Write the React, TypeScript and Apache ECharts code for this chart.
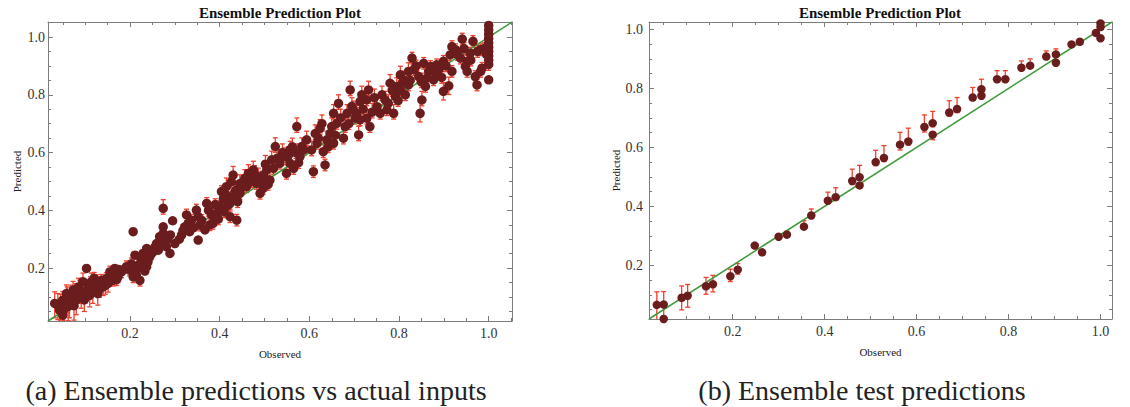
import React, { useEffect, useRef } from 'react';
import * as echarts from 'echarts';

const TITLE = 'Ensemble Prediction Plot';
const X_NAME = 'Observed';
const Y_NAME = 'Predicted';
const CAPTION_A = '(a) Ensemble predictions vs actual inputs';
const CAPTION_B = '(b) Ensemble test predictions';

const TRAIN_RANGE = [0.017, 1.052];
const TEST_RANGE = [0.018, 1.025];

// [observed, predicted, error below, error above]
const TRAIN_POINTS: number[][] = [
  [0.032, 0.078, 0.05, 0.04], [0.039, 0.072, 0.05, 0.04], [0.043, 0.054, 0.04, 0.04], [0.045, 0.070, 0.05, 0.04],
  [0.050, 0.089, 0.04, 0.03], [0.050, 0.037, 0.03, 0.04], [0.054, 0.060, 0.05, 0.05], [0.058, 0.112, 0.04, 0.03],
  [0.060, 0.095, 0.05, 0.04], [0.062, 0.068, 0.05, 0.04], [0.065, 0.078, 0.05, 0.04], [0.069, 0.101, 0.04, 0.04],
  [0.073, 0.124, 0.04, 0.03], [0.075, 0.070, 0.05, 0.04], [0.080, 0.089, 0.05, 0.04], [0.080, 0.106, 0.04, 0.04],
  [0.085, 0.135, 0.03, 0.03], [0.088, 0.118, 0.04, 0.04], [0.091, 0.101, 0.04, 0.03], [0.095, 0.153, 0.03, 0.03],
  [0.098, 0.090, 0.04, 0.04], [0.099, 0.118, 0.04, 0.03], [0.103, 0.199, 0.01, 0.01], [0.106, 0.129, 0.04, 0.03],
  [0.110, 0.106, 0.04, 0.03], [0.112, 0.140, 0.03, 0.03], [0.114, 0.153, 0.03, 0.03], [0.117, 0.118, 0.04, 0.03],
  [0.120, 0.165, 0.02, 0.02], [0.125, 0.147, 0.03, 0.03], [0.128, 0.112, 0.04, 0.03], [0.132, 0.129, 0.03, 0.03],
  [0.135, 0.145, 0.03, 0.02], [0.136, 0.158, 0.02, 0.02], [0.140, 0.135, 0.03, 0.02], [0.145, 0.140, 0.03, 0.02],
  [0.147, 0.164, 0.02, 0.02], [0.151, 0.147, 0.03, 0.02], [0.155, 0.187, 0.02, 0.02], [0.158, 0.175, 0.02, 0.02],
  [0.162, 0.158, 0.02, 0.02], [0.166, 0.199, 0.01, 0.01], [0.170, 0.160, 0.02, 0.02], [0.173, 0.170, 0.02, 0.02],
  [0.175, 0.195, 0.01, 0.01], [0.181, 0.187, 0.02, 0.02],
  [0.192, 0.205, 0.02, 0.02], [0.199, 0.193, 0.02, 0.02], [0.203, 0.215, 0.02, 0.02], [0.207, 0.170, 0.02, 0.02],
  [0.207, 0.326, 0.01, 0.01], [0.211, 0.245, 0.01, 0.01], [0.214, 0.176, 0.02, 0.02], [0.215, 0.195, 0.02, 0.02],
  [0.218, 0.210, 0.02, 0.02], [0.222, 0.158, 0.02, 0.01], [0.225, 0.228, 0.01, 0.01], [0.228, 0.235, 0.01, 0.01],
  [0.229, 0.251, 0.01, 0.01], [0.233, 0.190, 0.01, 0.01], [0.237, 0.205, 0.01, 0.01], [0.237, 0.268, 0.01, 0.01],
  [0.240, 0.222, 0.01, 0.01], [0.244, 0.239, 0.01, 0.01], [0.248, 0.250, 0.01, 0.01], [0.252, 0.257, 0.01, 0.01],
  [0.255, 0.272, 0.01, 0.01], [0.259, 0.285, 0.01, 0.01], [0.263, 0.262, 0.01, 0.01], [0.266, 0.309, 0.01, 0.01],
  [0.268, 0.290, 0.01, 0.01], [0.274, 0.407, 0.02, 0.03], [0.274, 0.343, 0.01, 0.01], [0.274, 0.320, 0.01, 0.01],
  [0.281, 0.274, 0.01, 0.01], [0.284, 0.300, 0.01, 0.01], [0.289, 0.251, 0.01, 0.01], [0.290, 0.315, 0.01, 0.01],
  [0.295, 0.364, 0.01, 0.01], [0.300, 0.285, 0.01, 0.01],
  [0.310, 0.300, 0.01, 0.02], [0.315, 0.314, 0.01, 0.01], [0.318, 0.330, 0.01, 0.02], [0.322, 0.343, 0.01, 0.01],
  [0.326, 0.384, 0.02, 0.02], [0.330, 0.355, 0.01, 0.02], [0.333, 0.326, 0.01, 0.01], [0.337, 0.366, 0.02, 0.02],
  [0.342, 0.340, 0.01, 0.02], [0.348, 0.401, 0.02, 0.02], [0.352, 0.378, 0.02, 0.02], [0.352, 0.297, 0.01, 0.01],
  [0.356, 0.349, 0.02, 0.02], [0.360, 0.365, 0.02, 0.02], [0.367, 0.332, 0.01, 0.02], [0.371, 0.424, 0.02, 0.02],
  [0.375, 0.400, 0.02, 0.02], [0.378, 0.350, 0.02, 0.02], [0.382, 0.384, 0.02, 0.02], [0.385, 0.355, 0.02, 0.02],
  [0.390, 0.420, 0.02, 0.02], [0.393, 0.389, 0.02, 0.02], [0.397, 0.370, 0.02, 0.02], [0.400, 0.413, 0.02, 0.02],
  [0.404, 0.465, 0.02, 0.02], [0.408, 0.440, 0.02, 0.02], [0.410, 0.395, 0.02, 0.02], [0.415, 0.482, 0.02, 0.03],
  [0.415, 0.453, 0.02, 0.02], [0.419, 0.418, 0.02, 0.02], [0.423, 0.378, 0.02, 0.02], [0.423, 0.424, 0.02, 0.02],
  [0.426, 0.499, 0.02, 0.03], [0.428, 0.445, 0.02, 0.02], [0.430, 0.522, 0.02, 0.03], [0.434, 0.465, 0.02, 0.02],
  [0.437, 0.470, 0.02, 0.02], [0.438, 0.366, 0.02, 0.02], [0.440, 0.430, 0.02, 0.02], [0.445, 0.459, 0.02, 0.03],
  [0.445, 0.493, 0.02, 0.03],
  [0.452, 0.480, 0.02, 0.03], [0.456, 0.511, 0.02, 0.03], [0.460, 0.482, 0.02, 0.03], [0.464, 0.528, 0.02, 0.03],
  [0.468, 0.510, 0.02, 0.03], [0.471, 0.499, 0.02, 0.03], [0.475, 0.540, 0.02, 0.03], [0.478, 0.525, 0.02, 0.03],
  [0.482, 0.493, 0.02, 0.03], [0.486, 0.516, 0.02, 0.03], [0.490, 0.459, 0.02, 0.02], [0.494, 0.505, 0.02, 0.03],
  [0.497, 0.476, 0.02, 0.02], [0.498, 0.522, 0.02, 0.03], [0.502, 0.560, 0.02, 0.03], [0.505, 0.540, 0.02, 0.03],
  [0.508, 0.490, 0.02, 0.03], [0.512, 0.505, 0.02, 0.03], [0.516, 0.575, 0.02, 0.03], [0.520, 0.545, 0.02, 0.03],
  [0.524, 0.621, 0.02, 0.03], [0.528, 0.580, 0.02, 0.03], [0.534, 0.563, 0.02, 0.03], [0.540, 0.600, 0.02, 0.03],
  [0.546, 0.586, 0.02, 0.03], [0.549, 0.528, 0.02, 0.03], [0.553, 0.590, 0.02, 0.03], [0.557, 0.609, 0.02, 0.03],
  [0.557, 0.563, 0.02, 0.03], [0.562, 0.620, 0.02, 0.03], [0.565, 0.545, 0.02, 0.02], [0.570, 0.600, 0.02, 0.03],
  [0.572, 0.690, 0.02, 0.03], [0.576, 0.565, 0.02, 0.03], [0.579, 0.586, 0.02, 0.03], [0.583, 0.621, 0.02, 0.03],
  [0.588, 0.610, 0.02, 0.03], [0.594, 0.644, 0.02, 0.03],
  [0.605, 0.609, 0.02, 0.03], [0.609, 0.534, 0.02, 0.02], [0.613, 0.666, 0.02, 0.03], [0.617, 0.632, 0.02, 0.03],
  [0.620, 0.650, 0.02, 0.03], [0.624, 0.684, 0.02, 0.03], [0.628, 0.700, 0.02, 0.03], [0.631, 0.603, 0.02, 0.03],
  [0.635, 0.557, 0.02, 0.02], [0.639, 0.644, 0.02, 0.03], [0.642, 0.620, 0.02, 0.03], [0.646, 0.666, 0.02, 0.03],
  [0.650, 0.690, 0.02, 0.03], [0.654, 0.632, 0.02, 0.03], [0.654, 0.736, 0.02, 0.03], [0.658, 0.660, 0.02, 0.03],
  [0.661, 0.701, 0.02, 0.03], [0.665, 0.770, 0.02, 0.03], [0.670, 0.720, 0.02, 0.03], [0.676, 0.650, 0.02, 0.03],
  [0.680, 0.690, 0.02, 0.03], [0.684, 0.736, 0.02, 0.03], [0.688, 0.700, 0.02, 0.03], [0.691, 0.817, 0.02, 0.03],
  [0.695, 0.760, 0.02, 0.03], [0.698, 0.748, 0.02, 0.03], [0.702, 0.719, 0.02, 0.03], [0.706, 0.735, 0.02, 0.03],
  [0.710, 0.661, 0.02, 0.03], [0.713, 0.776, 0.02, 0.03], [0.713, 0.713, 0.02, 0.03], [0.717, 0.800, 0.02, 0.03],
  [0.720, 0.750, 0.02, 0.03], [0.728, 0.782, 0.02, 0.03], [0.728, 0.719, 0.02, 0.03], [0.732, 0.817, 0.02, 0.03],
  [0.735, 0.690, 0.02, 0.04], [0.740, 0.740, 0.02, 0.03], [0.745, 0.790, 0.02, 0.03], [0.751, 0.759, 0.02, 0.03],
  [0.758, 0.736, 0.02, 0.03], [0.762, 0.800, 0.02, 0.03], [0.769, 0.782, 0.02, 0.03], [0.773, 0.748, 0.02, 0.03],
  [0.776, 0.770, 0.02, 0.03], [0.780, 0.840, 0.02, 0.03], [0.785, 0.815, 0.02, 0.03], [0.788, 0.736, 0.02, 0.03],
  [0.792, 0.794, 0.02, 0.03], [0.795, 0.829, 0.02, 0.03], [0.798, 0.780, 0.02, 0.03], [0.803, 0.817, 0.02, 0.03],
  [0.803, 0.869, 0.02, 0.03], [0.808, 0.840, 0.02, 0.03], [0.810, 0.852, 0.02, 0.03], [0.814, 0.800, 0.02, 0.03],
  [0.821, 0.834, 0.02, 0.03], [0.821, 0.881, 0.02, 0.03], [0.825, 0.850, 0.02, 0.03], [0.829, 0.927, 0.02, 0.02],
  [0.833, 0.887, 0.02, 0.03], [0.838, 0.900, 0.02, 0.02], [0.844, 0.863, 0.02, 0.03], [0.847, 0.736, 0.03, 0.04],
  [0.850, 0.845, 0.02, 0.03], [0.851, 0.782, 0.02, 0.03], [0.855, 0.909, 0.02, 0.02], [0.859, 0.829, 0.02, 0.03],
  [0.862, 0.858, 0.02, 0.03], [0.866, 0.880, 0.02, 0.02], [0.870, 0.898, 0.02, 0.02], [0.877, 0.881, 0.02, 0.02],
  [0.877, 0.852, 0.02, 0.03], [0.884, 0.875, 0.02, 0.02], [0.884, 0.904, 0.02, 0.02], [0.890, 0.890, 0.02, 0.02],
  [0.895, 0.860, 0.02, 0.02], [0.899, 0.916, 0.02, 0.02], [0.899, 0.812, 0.03, 0.03],
  [0.905, 0.900, 0.02, 0.02], [0.911, 0.831, 0.03, 0.03], [0.914, 0.938, 0.02, 0.02], [0.918, 0.967, 0.02, 0.02],
  [0.918, 0.881, 0.02, 0.02], [0.926, 0.956, 0.02, 0.02], [0.930, 0.940, 0.02, 0.02], [0.937, 0.927, 0.02, 0.02],
  [0.941, 0.993, 0.02, 0.02], [0.945, 0.960, 0.02, 0.02], [0.948, 0.898, 0.02, 0.02], [0.952, 0.916, 0.02, 0.02],
  [0.952, 0.881, 0.02, 0.02], [0.959, 0.944, 0.02, 0.02], [0.960, 0.920, 0.02, 0.02], [0.965, 0.985, 0.02, 0.02],
  [0.970, 0.863, 0.02, 0.02], [0.974, 0.834, 0.02, 0.02], [0.975, 0.950, 0.02, 0.02], [0.982, 0.956, 0.02, 0.02],
  [0.982, 0.881, 0.02, 0.02], [0.985, 0.892, 0.02, 0.02], [0.990, 0.960, 0.02, 0.02], [0.995, 0.940, 0.02, 0.02],
  [1.000, 1.040, 0.02, 0.02], [1.000, 1.025, 0.02, 0.02], [1.000, 1.010, 0.02, 0.02], [1.000, 0.995, 0.02, 0.02],
  [1.000, 0.980, 0.02, 0.02], [1.000, 0.965, 0.02, 0.02], [1.000, 0.950, 0.02, 0.02], [1.000, 0.935, 0.02, 0.02],
  [1.000, 0.920, 0.02, 0.02], [1.000, 0.905, 0.02, 0.02], [1.000, 0.852, 0.01, 0.01],
];

// [observed, predicted, error below, error above]
const TEST_POINTS: number[][] = [
  [0.035, 0.066, 0.054, 0.044], [0.050, 0.067, 0.052, 0.044], [0.050, 0.018, 0.010, 0.010],
  [0.089, 0.090, 0.041, 0.040], [0.102, 0.097, 0.039, 0.038], [0.142, 0.129, 0.027, 0.030],
  [0.157, 0.136, 0.026, 0.030], [0.195, 0.163, 0.018, 0.024], [0.211, 0.185, 0.015, 0.021],
  [0.248, 0.267, 0.006, 0.006], [0.264, 0.244, 0.006, 0.008], [0.300, 0.297, 0.006, 0.006],
  [0.318, 0.304, 0.008, 0.012], [0.355, 0.331, 0.006, 0.020], [0.371, 0.369, 0.010, 0.022],
  [0.407, 0.419, 0.008, 0.029], [0.424, 0.431, 0.008, 0.032], [0.460, 0.486, 0.012, 0.040],
  [0.476, 0.499, 0.010, 0.040], [0.476, 0.471, 0.010, 0.008], [0.511, 0.550, 0.012, 0.040],
  [0.529, 0.564, 0.012, 0.042], [0.564, 0.609, 0.018, 0.042], [0.582, 0.620, 0.012, 0.045],
  [0.617, 0.669, 0.017, 0.041], [0.635, 0.682, 0.012, 0.040], [0.635, 0.643, 0.017, 0.008],
  [0.671, 0.718, 0.012, 0.040], [0.688, 0.730, 0.012, 0.039], [0.722, 0.769, 0.010, 0.034],
  [0.741, 0.797, 0.010, 0.034], [0.741, 0.775, 0.010, 0.008], [0.775, 0.831, 0.010, 0.029],
  [0.793, 0.831, 0.010, 0.029], [0.828, 0.870, 0.008, 0.023], [0.847, 0.877, 0.008, 0.023],
  [0.882, 0.908, 0.006, 0.019], [0.903, 0.915, 0.006, 0.019], [0.903, 0.887, 0.006, 0.006],
  [0.937, 0.949, 0.005, 0.006], [0.955, 0.958, 0.005, 0.006], [0.990, 0.988, 0.005, 0.006],
  [1.000, 1.008, 0.006, 0.020], [1.000, 0.970, 0.005, 0.006], [1.000, 1.020, 0.006, 0.010],
];

const FONT = '"Liberation Serif", "Times New Roman", Times, "DejaVu Serif", serif';
const DOT = '#6b1d1d';
const ERR = '#ef3f2c';
const DIAG = '#3f9a3c';
const FRAME = '#7c7c7c';

function tickFmt(v: number): string {
  const k = v / 0.2;
  return Math.abs(k - Math.round(k)) < 1e-6 ? v.toFixed(1) : '';
}

function axisBase(range: number[], gridIndex: number) {
  return {
    type: 'value',
    gridIndex,
    min: range[0],
    max: range[1],
    axisLine: { show: true, onZero: false, lineStyle: { color: FRAME, width: 1 } },
    axisTick: { show: true, inside: true, length: 5, lineStyle: { color: FRAME, width: 1 } },
    minorTick: { show: true, splitNumber: 4, length: 3, lineStyle: { color: FRAME, width: 1 } },
    splitLine: { show: false },
    minorSplitLine: { show: false },
  };
}

function errorSeries(data: number[][], xi: number, cap: number) {
  return {
    type: 'custom',
    xAxisIndex: xi,
    yAxisIndex: xi,
    clip: true,
    z: 2,
    data,
    encode: { x: 0, y: 1 },
    renderItem: (_p: any, api: any) => {
      const x = api.value(0);
      const y = api.value(1);
      const d = api.value(2);
      const u = api.value(3);
      const top = api.coord([x, y + u]);
      const bot = api.coord([x, y - d]);
      const style = { stroke: ERR, lineWidth: 1.3 };
      return {
        type: 'group',
        children: [
          { type: 'line', shape: { x1: top[0], y1: top[1], x2: bot[0], y2: bot[1] }, style },
          { type: 'line', shape: { x1: top[0] - cap, y1: top[1], x2: top[0] + cap, y2: top[1] }, style },
          { type: 'line', shape: { x1: bot[0] - cap, y1: bot[1], x2: bot[0] + cap, y2: bot[1] }, style },
        ],
      };
    },
  };
}

export default function App() {
  const ref = useRef<HTMLDivElement>(null);
  useEffect(() => {
    if (!ref.current) return;
    const chart = echarts.init(ref.current, undefined, { renderer: 'svg' });
    const labelStyle = { fontFamily: FONT, fontSize: 14, color: '#333' };
    const nameStyle = { fontFamily: FONT, fontSize: 11, color: '#222' };
    chart.setOption({
      animation: false,
      backgroundColor: '#ffffff',
      grid: [
        { left: 48, top: 22, width: 464, height: 299 },
        { left: 649, top: 22, width: 463, height: 297 },
      ],
      xAxis: [
        { ...axisBase(TRAIN_RANGE, 0), position: 'bottom', name: X_NAME, nameLocation: 'middle', nameGap: 27, nameTextStyle: nameStyle, axisLabel: { formatter: tickFmt, margin: 5, ...labelStyle } },
        { ...axisBase(TRAIN_RANGE, 0), position: 'top', axisLabel: { show: false } },
        { ...axisBase(TEST_RANGE, 1), position: 'bottom', name: X_NAME, nameLocation: 'middle', nameGap: 27, nameTextStyle: nameStyle, axisLabel: { formatter: tickFmt, margin: 5, ...labelStyle } },
        { ...axisBase(TEST_RANGE, 1), position: 'top', axisLabel: { show: false } },
      ],
      yAxis: [
        { ...axisBase(TRAIN_RANGE, 0), position: 'left', name: Y_NAME, nameLocation: 'middle', nameGap: 26, nameTextStyle: nameStyle, axisLabel: { formatter: tickFmt, margin: 3, ...labelStyle } },
        { ...axisBase(TRAIN_RANGE, 0), position: 'right', axisLabel: { show: false } },
        { ...axisBase(TEST_RANGE, 1), position: 'left', name: Y_NAME, nameLocation: 'middle', nameGap: 26, nameTextStyle: nameStyle, axisLabel: { formatter: tickFmt, margin: 6, ...labelStyle } },
        { ...axisBase(TEST_RANGE, 1), position: 'right', axisLabel: { show: false } },
      ],
      series: [
        errorSeries(TRAIN_POINTS, 0, 2.5),
        {
          type: 'line', xAxisIndex: 0, yAxisIndex: 0, z: 3, symbol: 'none', clip: true,
          data: [[TRAIN_RANGE[0], TRAIN_RANGE[0]], [TRAIN_RANGE[1], TRAIN_RANGE[1]]],
          lineStyle: { color: DIAG, width: 1.5 },
        },
        {
          type: 'scatter', xAxisIndex: 0, yAxisIndex: 0, z: 4, symbolSize: 9.5, clip: true,
          data: TRAIN_POINTS.map((p) => [p[0], p[1]]),
          itemStyle: { color: DOT, opacity: 1 },
        },
        errorSeries(TEST_POINTS, 2, 2.5),
        {
          type: 'line', xAxisIndex: 2, yAxisIndex: 2, z: 3, symbol: 'none', clip: true,
          data: [[TEST_RANGE[0], TEST_RANGE[0]], [TEST_RANGE[1], TEST_RANGE[1]]],
          lineStyle: { color: DIAG, width: 1.5 },
        },
        {
          type: 'scatter', xAxisIndex: 2, yAxisIndex: 2, z: 4, symbolSize: 8.5, clip: true,
          data: TEST_POINTS.map((p) => [p[0], p[1]]),
          itemStyle: { color: DOT, opacity: 1 },
        },
      ],
      graphic: [
        { type: 'text', x: 280, y: 13, style: { text: TITLE, fontFamily: FONT, fontSize: 15, fontWeight: 'bold', fill: '#111', align: 'center', verticalAlign: 'middle' } },
        { type: 'text', x: 880, y: 13, style: { text: TITLE, fontFamily: FONT, fontSize: 15, fontWeight: 'bold', fill: '#111', align: 'center', verticalAlign: 'middle' } },
        { type: 'text', x: 256, y: 390, style: { text: CAPTION_A, fontFamily: FONT, fontSize: 28, fill: '#222', align: 'center', verticalAlign: 'middle' } },
        { type: 'text', x: 862, y: 390, style: { text: CAPTION_B, fontFamily: FONT, fontSize: 28, fill: '#222', align: 'center', verticalAlign: 'middle' } },
      ],
    });
    return () => chart.dispose();
  }, []);
  return (
    <div
      ref={ref}
      style={{ position: 'absolute', left: 0, top: 0, width: 1130, height: 407, background: '#fff' }}
    />
  );
}
